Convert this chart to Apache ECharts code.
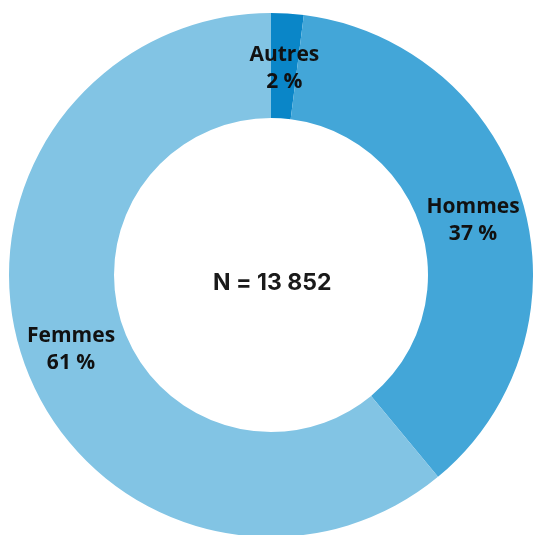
<!DOCTYPE html>
<html><head><meta charset="utf-8">
<script src="https://cdn.jsdelivr.net/npm/echarts@6/dist/echarts.min.js"></script>
<style>html,body{margin:0;padding:0;background:#fff}#c{width:533px;height:535px}</style>
</head><body><div id="c"></div>
<script>
const categories = ["Autres", "Hommes", "Femmes"];
const values = [2, 37, 61];
const colors = ["#0a86c8", "#43a6d8", "#82c4e4"];
const labelOffsets = [[0, 6], [-2, 5], [0, 3]];
const centerText = "N = 13 852";

const chart = echarts.init(document.getElementById('c'));
chart.setOption({
  animation: false,
  graphic: [{
    type: 'text', left: 213, top: 272,
    style: { text: centerText, font: '700 23px Inter', fill: '#1a1a1a' }
  }],
  series: [{
    type: 'pie',
    center: [271, 275],
    radius: [157, 262],
    startAngle: 90,
    clockwise: true,
    label: {
      position: 'inside',
      formatter: p => p.name + '\n' + p.value + ' %',
      fontFamily: 'Open Sans', fontWeight: 'bold', fontSize: 21,
      color: '#111', lineHeight: 27
    },
    labelLine: { show: false },
    data: categories.map((n, i) => ({
      name: n, value: values[i],
      itemStyle: { color: colors[i] },
      label: { offset: labelOffsets[i] }
    }))
  }]
});
</script></body></html>
